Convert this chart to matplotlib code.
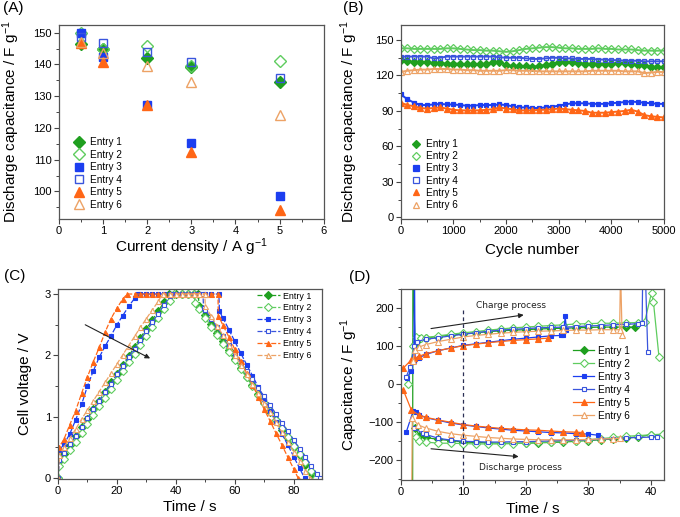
import matplotlib
matplotlib.use('Agg')
import matplotlib.pyplot as plt
from matplotlib.ticker import MultipleLocator

plt.rcParams['font.family'] = ['Liberation Sans', 'DejaVu Sans']
plt.rcParams['mathtext.fontset'] = 'custom'
plt.rcParams['mathtext.rm'] = 'Liberation Sans'
plt.rcParams['mathtext.it'] = 'Liberation Sans:italic'
plt.rcParams['mathtext.bf'] = 'Liberation Sans:bold'

entries = ['Entry 1', 'Entry 2', 'Entry 3', 'Entry 4', 'Entry 5', 'Entry 6']
colors = ['#1f9f1f', '#5fcc5f', '#1c3ef0', '#3a55dd', '#ff6616', '#eda265']
markers = ['D', 'D', 's', 's', '^', '^']
filled = [True, False, True, False, True, False]

# ---------------- Panel A: rate capability ----------------
rateA = [0.5, 1, 2, 3, 5]
capA_e1 = [146.5, 144.7, 142.0, 139.2, 134.5]
capA_e2 = [150.0, 145.0, 145.8, 139.5, 141.2]
capA_e3 = [149.8, 142.2, 127.2, 115.2, 98.6]
capA_e4 = [148.5, 146.7, 143.8, 140.9, 135.6]
capA_e5 = [146.7, 140.8, 127.2, 112.5, 94.0]
capA_e6 = [147.0, 143.5, 139.5, 134.3, 124.2]

# ---------------- Panel B: cycling ----------------
cyclesB = [0, 125, 250, 375, 500, 625, 750, 875, 1000, 1125, 1250, 1375, 1500, 1625,
           1750, 1875, 2000, 2125, 2250, 2375, 2500, 2625, 2750, 2875, 3000, 3125,
           3250, 3375, 3500, 3625, 3750, 3875, 4000, 4125, 4250, 4375, 4500, 4625,
           4750, 4875, 5000]
capB_e1 = [133, 132, 131.5, 131, 131, 130.5, 130.5, 130, 130, 130, 129.5, 129.5, 129.5, 130,
           131, 131.5, 128.5, 128, 128, 128, 127.5, 128, 129, 130, 131, 131, 131, 130.5,
           130, 130, 130, 130, 130, 130.5, 130.5, 130, 129, 128.5, 127.5, 127, 127]
capB_e2 = [143, 143, 142.5, 142.5, 142.5, 142.5, 142.5, 143, 143, 142.5, 142, 141.5, 141.5,
           141, 141, 140.5, 140, 140.5, 141.5, 142.5, 143, 143.5, 144, 144, 143.5, 143, 143,
           142.5, 142.5, 142.5, 143, 142.5, 142.5, 142, 142, 142, 141.5, 141, 141, 141, 141]
capB_e3 = [104, 100, 97, 95, 95, 95.5, 96, 95.5, 95.5, 95, 94.5, 94.5, 95, 95, 95, 95.5, 95,
           94, 93, 93, 92.5, 92.5, 93, 93.5, 94.5, 95.5, 96.5, 96.5, 96.5, 96, 96, 96, 96.5,
           97, 97.5, 98, 97.5, 97, 96.5, 96, 96]
capB_e4 = [136, 136, 136, 136, 136, 134.5, 135, 136, 136, 136, 136, 136, 136, 136, 136, 135.5,
           135, 135, 135, 134.5, 134, 134, 134.5, 135, 135, 134.5, 134.5, 134, 134, 134, 133.5,
           133.5, 133, 133, 132.5, 132.5, 132.5, 132, 132, 132, 132]
capB_e5 = [97, 95, 94, 92.5, 92, 92.5, 93, 92, 91, 90.5, 90.5, 90.5, 90.5, 91, 91.5, 93, 92,
           91.5, 90.5, 90.5, 90.5, 91, 91, 91.5, 92, 91.5, 91, 90.5, 90, 88.5, 88.5, 88.5, 89,
           89.5, 90, 91, 89.5, 86.5, 85.5, 85, 84.5]
capB_e6 = [123, 124, 124.5, 125, 125, 125.5, 125.5, 125.5, 125, 125, 124.5, 124.5, 124, 124,
           124, 124, 124.5, 124.5, 124, 124, 124, 123.5, 123.5, 123.5, 123.5, 123.5, 123.5,
           123.5, 123.5, 124, 124, 124, 124, 124, 123.5, 123.5, 123.5, 122, 122.5, 123, 123]

# ---------------- Panel C: charge/discharge curves ----------------
tC_e1 = [0, 0.5, 2, 4, 6, 8, 10, 12, 14, 16, 18, 20, 22, 24, 26, 28, 30, 32, 34, 36, 37.8,
         40, 42, 44, 46, 47.5, 48, 50, 52, 54, 56, 58, 60, 62, 64, 66, 68, 70, 72, 74, 76,
         78, 80, 82, 84, 86, 87.1]
vC_e1 = [0, 0.28, 0.39, 0.54, 0.68, 0.83, 0.97, 1.12, 1.26, 1.41, 1.56, 1.70, 1.85, 1.99,
         2.14, 2.29, 2.43, 2.58, 2.72, 2.87, 3.0, 3.0, 3.0, 3.0, 3.0, 3.0, 2.8, 2.66, 2.51,
         2.37, 2.23, 2.08, 1.94, 1.80, 1.65, 1.51, 1.37, 1.22, 1.08, 0.94, 0.79, 0.65, 0.51,
         0.37, 0.22, 0.08, 0.0]
tC_e2 = [0, 0.5, 2, 4, 6, 8, 10, 12, 14, 16, 18, 20, 22, 24, 26, 28, 30, 32, 34, 36, 38,
         39.5, 42, 44, 46.2, 46.5, 48, 50, 52, 54, 56, 58, 60, 62, 64, 66, 68, 70, 72, 74,
         76, 78, 80, 82, 84, 86, 87.7]
vC_e2 = [0, 0.2, 0.31, 0.45, 0.59, 0.74, 0.88, 1.03, 1.17, 1.31, 1.46, 1.60, 1.74, 1.89,
         2.03, 2.17, 2.32, 2.46, 2.61, 2.75, 2.89, 3.0, 3.0, 3.0, 3.0, 2.85, 2.75, 2.61, 2.47,
         2.33, 2.19, 2.05, 1.92, 1.78, 1.64, 1.50, 1.36, 1.22, 1.09, 0.95, 0.81, 0.67, 0.53,
         0.39, 0.26, 0.12, 0.0]
tC_e3 = [0, 0.3, 2, 4, 6, 8, 10, 12, 14, 16, 18, 20, 22, 24, 26, 27, 28, 30, 32, 34, 36,
         38, 40, 42, 44, 46, 48, 50, 52, 54.6, 54.8, 56, 58, 60, 62, 64, 66, 68, 70, 72, 74,
         76, 78, 80, 82, 83.7]
vC_e3 = [0, 0.45, 0.55, 0.72, 0.95, 1.2, 1.5, 1.75, 1.97, 2.15, 2.32, 2.5, 2.65, 2.8, 2.93,
         3.0, 3.0, 3.0, 3.0, 3.0, 3.0, 3.0, 3.0, 3.0, 3.0, 3.0, 3.0, 3.0, 3.0, 3.0, 2.72,
         2.61, 2.42, 2.23, 2.04, 1.85, 1.67, 1.48, 1.29, 1.10, 0.91, 0.72, 0.54, 0.35, 0.16, 0.0]
tC_e4 = [0, 0.5, 2, 4, 6, 8, 10, 12, 14, 16, 18, 20, 22, 24, 26, 28, 30, 32, 34, 36, 38,
         38.5, 40, 42, 44, 46, 48, 49.2, 49.4, 50, 52, 54, 56, 58, 60, 62, 64, 66, 68, 70,
         72, 74, 76, 78, 80, 82, 84, 86, 88, 88.8]
vC_e4 = [0, 0.3, 0.41, 0.55, 0.69, 0.83, 0.98, 1.12, 1.26, 1.40, 1.54, 1.69, 1.83, 1.97,
         2.11, 2.25, 2.40, 2.54, 2.68, 2.82, 2.96, 3.0, 3.0, 3.0, 3.0, 3.0, 3.0, 3.0, 2.78,
         2.74, 2.60, 2.46, 2.31, 2.17, 2.03, 1.89, 1.75, 1.61, 1.47, 1.33, 1.19, 1.04, 0.90,
         0.76, 0.62, 0.48, 0.34, 0.20, 0.06, 0.0]
tC_e5 = [0, 0.3, 2, 4, 6, 8, 10, 12, 14, 16, 18, 20, 22, 23.5, 26, 28, 30, 32, 34, 36, 38,
         40, 42, 44, 46, 48, 50, 52, 54.3, 54.4, 56, 58, 60, 62, 64, 66, 68, 70, 72, 74, 76,
         78, 80, 81.5]
vC_e5 = [0, 0.5, 0.63, 0.87, 1.1, 1.38, 1.65, 1.9, 2.13, 2.38, 2.6, 2.77, 2.92, 3.0, 3.0,
         3.0, 3.0, 3.0, 3.0, 3.0, 3.0, 3.0, 3.0, 3.0, 3.0, 3.0, 3.0, 3.0, 3.0, 2.65, 2.49,
         2.30, 2.10, 1.91, 1.71, 1.52, 1.32, 1.12, 0.93, 0.73, 0.54, 0.34, 0.15, 0.0]
tC_e6 = [0, 0.5, 2, 4, 6, 8, 10, 12, 14, 16, 18, 20, 22, 24, 26, 28, 30, 32, 34, 35.5, 38,
         40, 42, 44, 46, 48, 49.8, 50, 52, 54, 56, 58, 60, 62, 64, 66, 68, 70, 72, 74, 76,
         78, 80, 82, 84, 85.5]
vC_e6 = [0, 0.38, 0.5, 0.65, 0.8, 0.96, 1.11, 1.26, 1.41, 1.56, 1.71, 1.86, 2.01, 2.16,
         2.31, 2.46, 2.6, 2.74, 2.88, 3.0, 3.0, 3.0, 3.0, 3.0, 3.0, 3.0, 3.0, 2.8, 2.64, 2.48,
         2.33, 2.17, 2.01, 1.85, 1.70, 1.54, 1.38, 1.22, 1.07, 0.91, 0.75, 0.59, 0.43, 0.28,
         0.12, 0.0]

# ---------------- Panel D: capacitance vs time ----------------
tDc_e1 = [1.9, 1.95, 2.3, 3, 4, 6, 8, 10, 12, 14, 16, 18, 20, 22, 24, 26, 28, 30, 32, 34, 36, 37.5]
cDc_e1 = [-300, 300, 105, 118, 122, 125, 129, 132, 135, 138, 140, 142, 143, 145, 146, 147,
          148, 149, 150, 150, 150, 150]
tDc_e2 = [1.2, 2.0, 2.5, 3.3, 4, 6, 8, 10, 12, 14, 16, 18, 20, 22, 24, 26, 28, 30, 32, 34,
          36, 38, 39, 40.1, 40.4, 41.3]
cDc_e2 = [0, 100, 125, 120, 122, 127, 131, 135, 138, 142, 145, 148, 150, 152, 154, 156, 158,
          159, 160, 160, 161, 162, 164, 240, 217, 71]
tDc_e3 = [1.0, 1.6, 2.1, 2.2, 2.3, 3, 4, 6, 8, 10, 12, 14, 16, 18, 20, 22, 24, 25.7, 26.0,
          26.3, 26.5]
cDc_e3 = [15, 35, 60, 300, 65, 70, 78, 88, 95, 102, 106, 110, 114, 118, 121, 124, 127, 128,
          130, 178, 143]
tDc_e4 = [0.9, 1.5, 2.2, 2.6, 4, 6, 8, 10, 12, 14, 16, 18, 20, 22, 24, 26, 28, 30, 32, 34,
          36, 38, 38.6, 38.7, 39.1, 39.5]
cDc_e4 = [20, 45, 100, 112, 118, 122, 127, 131, 135, 139, 142, 144, 146, 148, 149, 150, 151,
          153, 154, 156, 157, 159, 160, 300, 300, 85]
tDc_e5 = [0.4, 1.7, 2.2, 2.9, 4, 6, 8, 10, 12, 14, 16, 18, 20, 22, 23.6]
cDc_e5 = [42, 64, 68, 73, 80, 88, 95, 101, 105, 109, 112, 115, 117, 119, 121]
tDc_e6 = [1.9, 2.3, 3, 4, 6, 8, 10, 12, 14, 16, 18, 20, 22, 24, 26, 28, 30, 32, 34, 35,
          35.15, 35.4]
cDc_e6 = [60, 90, 98, 104, 112, 118, 124, 128, 131, 134, 136, 138, 139, 140, 141, 142, 142,
          143, 143, 143, 300, 128]

tDd_e1 = [2.3, 3, 4, 6, 8, 10, 12, 14, 16, 18, 20, 22, 24, 26, 28, 30, 32, 34, 36, 38, 40]
cDd_e1 = [-115, -135, -140, -145, -148, -152, -153, -154, -155, -155, -155, -154, -153, -152,
          -150, -148, -146, -144, -142, -138, -133]
tDd_e2 = [2.5, 3, 4, 6, 8, 10, 12, 14, 16, 18, 20, 22, 24, 26, 28, 30, 32, 34, 36, 38, 40, 42]
cDd_e2 = [-140, -150, -152, -155, -155, -156, -157, -157, -157, -156, -155, -153, -152, -150,
          -148, -146, -143, -140, -137, -135, -133, -131]
tDd_e3 = [0.9, 2.0, 2.5, 3, 4, 6, 8, 10, 12, 14, 16, 18, 20, 22, 24, 26, 28, 30, 31.5]
cDd_e3 = [-125, -70, -73, -80, -88, -95, -102, -107, -111, -115, -118, -121, -123, -125, -127,
          -128, -130, -131, -134]
tDd_e4 = [2.2, 3.5, 4, 6, 8, 10, 12, 14, 16, 18, 20, 22, 24, 26, 28, 30, 32, 34, 36, 38, 40, 41]
cDd_e4 = [-116, -129, -132, -142, -147, -150, -151, -152, -152, -151, -151, -150, -149, -148,
          -147, -146, -145, -143, -141, -140, -139, -138]
tDd_e5 = [0.4, 1.7, 2.9, 4, 6, 8, 10, 12, 14, 16, 18, 20, 22, 24, 26, 28, 29]
cDd_e5 = [-15, -68, -81, -87, -94, -100, -106, -110, -113, -116, -118, -120, -121, -123, -125,
          -126, -127]
tDd_e6 = [1.75, 1.85, 2.8, 4, 6, 8, 10, 12, 14, 16, 18, 20, 22, 24, 26, 28, 30, 32, 34, 35]
cDd_e6 = [-300, -90, -107, -115, -124, -130, -134, -137, -140, -142, -144, -145, -146, -146,
          -146, -146, -145, -144, -143, -142]

capA = [capA_e1, capA_e2, capA_e3, capA_e4, capA_e5, capA_e6]
capB = [capB_e1, capB_e2, capB_e3, capB_e4, capB_e5, capB_e6]
tC = [tC_e1, tC_e2, tC_e3, tC_e4, tC_e5, tC_e6]
vC = [vC_e1, vC_e2, vC_e3, vC_e4, vC_e5, vC_e6]
tDc = [tDc_e1, tDc_e2, tDc_e3, tDc_e4, tDc_e5, tDc_e6]
cDc = [cDc_e1, cDc_e2, cDc_e3, cDc_e4, cDc_e5, cDc_e6]
tDd = [tDd_e1, tDd_e2, tDd_e3, tDd_e4, tDd_e5, tDd_e6]
cDd = [cDd_e1, cDd_e2, cDd_e3, cDd_e4, cDd_e5, cDd_e6]

fig = plt.figure(figsize=(6.8, 5.17), dpi=100)
axA = fig.add_axes([0.0863, 0.5764, 0.390, 0.3752])
axB = fig.add_axes([0.5893, 0.5764, 0.3872, 0.3752])
axC = fig.add_axes([0.0853, 0.0741, 0.3882, 0.3675])
axD = fig.add_axes([0.5893, 0.0722, 0.3872, 0.3694])

def style(ax, xmaj, xmin, ymaj, ymin):
    ax.xaxis.set_major_locator(MultipleLocator(xmaj))
    ax.xaxis.set_minor_locator(MultipleLocator(xmin))
    ax.yaxis.set_major_locator(MultipleLocator(ymaj))
    ax.yaxis.set_minor_locator(MultipleLocator(ymin))
    ax.tick_params(which='major', direction='out', length=3.5, width=0.8, labelsize=8,
                   pad=1.5, top=False, right=False, color='#444444')
    ax.tick_params(which='minor', direction='out', length=2, width=0.7, top=False,
                   right=False, color='#444444')
    for s in ax.spines.values():
        s.set_color('#555555')
        s.set_linewidth(0.9)

msA = [6, 6, 5.5, 5.5, 7, 7]
# Panel A
for i in range(6):
    fc = colors[i] if filled[i] else 'none'
    axA.plot(rateA, capA[i], linestyle='none', marker=markers[i], markersize=msA[i],
             markerfacecolor=fc, markeredgecolor=colors[i], markeredgewidth=1.0,
             label=entries[i])
axA.set_xlim(0, 6)
axA.set_ylim(91.3, 152.4)
style(axA, 1, 0.5, 10, 5)
axA.set_xlabel('Current density / A g$^{-1}$', fontsize=11)
axA.set_ylabel('Discharge capacitance / F g$^{-1}$', fontsize=11)
axA.xaxis.set_label_coords(0.5, -0.088)
axA.yaxis.set_label_coords(-0.14, 0.5)
axA.legend(loc='upper left', bbox_to_anchor=(0.058, 0.421), frameon=False, fontsize=7.2,
           handlelength=1.0, handletextpad=0.6, labelspacing=0.25, borderpad=0,
           borderaxespad=0)

# Panel B
for i in range(6):
    fc = colors[i] if filled[i] else 'none'
    axB.plot(cyclesB, capB[i], linestyle='-', linewidth=1.4, color=colors[i],
             marker=markers[i], markersize=3.8 if markers[i] != 's' else 3.4,
             markerfacecolor=fc, markeredgecolor=colors[i], markeredgewidth=0.9)
hB = [plt.Line2D([], [], linestyle='none', marker=markers[i], markersize=4.2,
                 markerfacecolor=colors[i] if filled[i] else 'none',
                 markeredgecolor=colors[i], markeredgewidth=0.9) for i in range(6)]
axB.set_xlim(0, 5000)
axB.set_ylim(-1.4, 162.7)
style(axB, 1000, 500, 30, 15)
axB.set_xlabel('Cycle number', fontsize=11)
axB.set_ylabel('Discharge capacitance / F g$^{-1}$', fontsize=11)
axB.xaxis.set_label_coords(0.5, -0.125)
axB.yaxis.set_label_coords(-0.155, 0.5)
axB.legend(hB, entries, loc='upper left', bbox_to_anchor=(0.039, 0.412), frameon=False,
           fontsize=7.2, handlelength=1.0, handletextpad=0.55, labelspacing=0.22,
           borderpad=0, borderaxespad=0)

# Panel C
for i in range(6):
    fc = colors[i] if filled[i] else 'white'
    axC.plot(tC[i], vC[i], linestyle=(0, (4, 1.5)), linewidth=0.9, color=colors[i],
             marker=markers[i], markersize=3.6 if markers[i] != 's' else 3.2,
             markerfacecolor=fc, markeredgecolor=colors[i], markeredgewidth=0.8,
             label=entries[i])
axC.set_xlim(0, 89.6)
axC.set_ylim(-0.01, 3.087)
style(axC, 20, 10, 1, 0.5)
axC.set_xlabel('Time / s', fontsize=11)
axC.set_ylabel('Cell voltage / V', fontsize=11)
axC.xaxis.set_label_coords(0.5, -0.112)
axC.yaxis.set_label_coords(-0.10, 0.5)
axC.annotate('', xy=(32.1, 1.93), xytext=(8.4, 2.52),
             arrowprops=dict(arrowstyle='-|>', color='#222222', lw=0.8, mutation_scale=7))
axC.legend(loc='upper left', bbox_to_anchor=(0.753, 0.985), frameon=False, fontsize=6.4,
           handlelength=2.6, handletextpad=0.3, labelspacing=0.32, borderpad=0,
           borderaxespad=0)

# Panel D
for i in range(6):
    fc = colors[i] if filled[i] else 'white'
    kw = dict(linestyle='-', linewidth=0.9, color=colors[i], marker=markers[i],
              markersize=3.8 if markers[i] != 's' else 3.4, markerfacecolor=fc,
              markeredgecolor=colors[i], markeredgewidth=0.8)
    axD.plot(tDc[i], cDc[i], label=entries[i], **kw)
    axD.plot(tDd[i], cDd[i], **kw)
axD.plot([10, 10], [195, -260], linestyle=(0, (3, 2.5)), color='#2a2f55', linewidth=0.9)
axD.annotate('', xy=(20.1, 183), xytext=(4.4, 145),
             arrowprops=dict(arrowstyle='-|>', color='#222222', lw=0.8, mutation_scale=7))
axD.annotate('', xy=(19.3, -191), xytext=(4.4, -169),
             arrowprops=dict(arrowstyle='-|>', color='#222222', lw=0.8, mutation_scale=7))
axD.text(17.7, 206, 'Charge process', fontsize=6.5, family='DejaVu Sans', ha='center',
         va='center', color='#222222')
axD.text(19.2, -218, 'Discharge process', fontsize=6.5, family='DejaVu Sans', ha='center',
         va='center', color='#222222')
axD.set_xlim(0, 42.1)
axD.set_ylim(-250.8, 250.8)
style(axD, 10, 5, 100, 50)
axD.set_xlabel('Time / s', fontsize=11)
axD.set_ylabel('Capacitance / F g$^{-1}$', fontsize=11)
axD.xaxis.set_label_coords(0.5, -0.118)
axD.yaxis.set_label_coords(-0.155, 0.5)
axD.legend(loc='upper left', bbox_to_anchor=(0.656, 0.70), frameon=False, fontsize=7.2,
           handlelength=2.1, handletextpad=0.32, labelspacing=0.3, borderpad=0,
           borderaxespad=0)

for lab, x, y in [('(A)', 0.004, 0.998), ('(B)', 0.504, 0.998), ('(C)', 0.006, 0.48),
                  ('(D)', 0.513, 0.478)]:
    fig.text(x, y, lab, fontsize=11, ha='left', va='top')

fig.savefig('out.png', dpi=100)
